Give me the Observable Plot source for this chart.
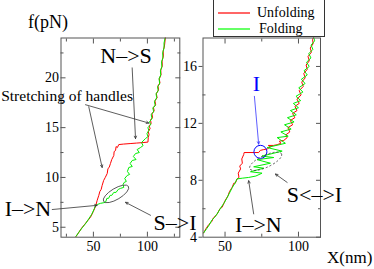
<!DOCTYPE html>
<html><head><meta charset="utf-8">
<script src="https://cdn.jsdelivr.net/npm/d3@7"></script>
<script src="https://cdn.jsdelivr.net/npm/@observablehq/plot@0.6"></script>
<style>
html,body{margin:0;padding:0;background:#fff;}
#chart{position:relative;width:374px;height:269px;overflow:hidden;font-family:"Liberation Serif",serif;background:#fff;}
#chart svg{position:absolute;left:0;top:0;}
#chart svg, #chart svg text{font-family:"Liberation Serif",serif !important;}
.lab{position:absolute;white-space:nowrap;line-height:1;color:#000;}
</style></head><body>
<div id="chart"></div>
<script>
// ---------- data ----------
const leftUnfoldX = [33.4,36,39,42,45,47.3,50,52,53.5,55,56,57.2,58.1,59.5,61,62.8,63.5,64.6,65.8,67,68.9,69.2,70.5,71,72.2,73.5,78,84,90,96,100.5,100.8,101.5,100.8,102.5,101.6,103.5,102.8,104.8,104.2,106.3,105.6,107.6,107,109,108.3,110.3,109.8,111.6,111,112.6,112.4,113.8,113.6,114.8,114.6,115.8,116.3,116.8];
const leftUnfoldY = [4.0,4.4,4.9,5.3,5.7,6.0,6.6,7.1,7.7,8.2,8.6,8.8,9.2,9.7,10.0,10.4,10.9,11.0,11.4,11.8,12.2,12.6,12.7,13.1,13.0,13.3,13.35,13.4,13.45,13.5,13.55,14.0,14.3,14.6,14.9,15.2,15.4,15.8,16.0,16.4,16.7,17.0,17.3,17.7,18.0,18.4,18.8,19.2,19.5,19.9,20.3,20.8,21.2,21.7,22.2,22.7,23.2,23.7,24.2];
const leftFoldX = [33.4,36.5,40,43,46,48.5,51,52,54,56.6,59,61.2,62.5,64,65.5,67,68.9,71,73,75.1,78.1,77.5,78.5,80.5,79,81.3,83.5,81.5,82.8,86,84,85.9,89.5,87,89,92.5,90.5,93.6,96,94.5,98.2,100.5,99.6,101.3,100.5,103,102,104.3,103.5,105.8,105,107.3,106.5,108.6,108,110,109.4,111.4,110.8,112.4,112,113.4,113.1,114.4,114.1,115.4,115.4,116.4];
const leftFoldY = [4.0,4.5,5.0,5.4,5.9,6.3,6.9,7.2,7.3,7.4,7.45,7.5,7.9,7.9,8.2,8.2,8.5,8.5,8.8,8.9,9.0,9.3,9.5,9.6,9.9,10.2,10.3,10.6,11.0,11.1,11.4,11.7,11.8,12.1,12.4,12.5,12.8,13.0,13.2,13.5,13.9,14.1,14.4,14.7,15.0,15.3,15.6,15.9,16.3,16.6,17.0,17.2,17.6,18.0,18.4,18.7,19.1,19.4,19.9,20.3,20.7,21.1,21.6,22.0,22.5,23.0,23.5,24.0];
const rightUnfoldX = [35.4,37,39,41,42,44.5,46.5,48,50.2,52,53,54.8,56,57,58.2,59.5,59,60.6,60,61.8,61.4,62.7,63,67,70,72.9,74,76,78.7,81,79.5,83,85.5,88,87,90,92.3,91.5,94.1,92.8,96,94.5,97.5,96,99,97.6,100.5,99,101.8,100.5,103.3,102.2,104.6,103.6,106,105.2,107.4,106.5,108.8,108,110,109.6,111];
const rightUnfoldY = [4.3,4.6,4.9,5.1,5.35,5.6,6.0,6.1,6.6,6.9,7.2,7.5,7.8,7.8,8.1,8.2,8.5,8.8,9.0,9.2,9.5,9.8,9.95,9.95,9.95,9.95,10.1,10.15,10.2,10.35,10.45,10.45,10.5,10.6,10.75,10.8,11.0,11.2,11.4,11.7,11.9,12.2,12.4,12.7,12.9,13.2,13.4,13.7,14.0,14.3,14.6,14.9,15.2,15.5,15.8,16.1,16.4,16.7,17.0,17.3,17.6,17.9,18.2];
const rightFoldX = [35.4,37.5,39.2,41,43,45,47,49,51,53,55,56.8,58.2,62,66.1,71,75.2,67.3,76.3,69.5,80.9,71.8,83.2,75.2,88.9,78.7,91.1,85.5,93,88,95,90.5,97,92.5,98.5,94.5,100,96.5,101.5,98.3,103,100.2,104.5,102,106,103.8,107.3,105.5,108.5,107,109.8,108.6,111,110.2];
const rightFoldY = [4.3,4.6,4.85,5.2,5.4,5.7,6.05,6.35,6.7,7.1,7.5,7.8,8.1,8.15,8.2,8.3,8.5,8.6,8.85,8.95,9.2,9.45,9.6,9.7,10.05,10.3,10.6,11.0,11.1,11.4,11.6,11.9,12.1,12.4,12.6,12.9,13.1,13.4,13.6,13.9,14.2,14.5,14.8,15.1,15.4,15.7,16.0,16.3,16.6,16.9,17.2,17.5,17.8,18.1];

const leftDomainX = [20,130], leftDomainY = [4,24];
const rightDomainX = [35,115], rightDomainY = [4,18];
const leftXTicks = [50,100], leftXMinor = [25,75,125];
const leftYTicks = [5,10,15,20], leftYMinor = [7.5,12.5,17.5,22.5];
const rightXTicks = [50,100], rightXMinor = [75];
const rightYTicks = [4,8,12,16], rightYMinor = [6,10,14];

const leftLabels = [
  {text:"N–>S", x:80.2, y:22.2, size:22},
  {text:"Stretching of handles", x:25.6, y:18.2, size:15.5},
  {text:"I–>N", x:-10.6, y:6.8, size:22},
  {text:"S–>I", x:125.6, y:5.4, size:22}
];
const leftArrows = [
  {x1:85.9,y1:21.0,x2:89,y2:13.9},
  {x1:42.7,y1:17.3,x2:101.3,y2:15.46},
  {x1:45.7,y1:17.1,x2:58.1,y2:11.0},
  {x1:11.9,y1:6.78,x2:53.5,y2:7.2},
  {x1:102.9,y1:6.2,x2:79.7,y2:7.5}
];
const rightLabels = [
  {text:"S<–>I", x:110.9, y:6.96, size:22},
  {text:"I–>N", x:72.7, y:4.86, size:22}
];
const rightArrows = [
  {x1:92.3,y1:7.85,x2:84.3,y2:8.44},
  {x1:69.5,y1:5.64,x2:66.1,y2:7.97}
];
const blueLabel = [{text:"I", x:71.4, y:14.8}];
const blueArrow = [{x1:70.0,y1:13.9,x2:72.9,y2:10.54}];
const blueCircle = [{x:74.1, y:10.0}];
const leftEllipse = {x:71.4, y:8.3};
const rightEllipse = {x:78, y:9.3};

const rows = (xs, ys) => xs.map((x, i) => ({x, y: ys[i]}));
const FRAME = "#555";
const noText = () => "";

function axes(xT, xM, yT, yM, leftOut) {
  return [
    Plot.axisX(xT, {anchor:"bottom", tickSize:-5, stroke:FRAME, tickFormat:noText, label:null}),
    Plot.axisX(xM, {anchor:"bottom", tickSize:-3, stroke:FRAME, tickFormat:noText, label:null}),
    Plot.axisX(xT, {anchor:"top", tickSize:-5, stroke:FRAME, tickFormat:noText, label:null}),
    Plot.axisX(xM, {anchor:"top", tickSize:-3, stroke:FRAME, tickFormat:noText, label:null}),
    Plot.axisY(yT, {anchor:"left", tickSize: leftOut ? 4 : -5, stroke:FRAME, tickFormat:noText, label:null}),
    Plot.axisY(yM, {anchor:"left", tickSize:-3, stroke:FRAME, tickFormat:noText, label:null}),
    Plot.axisY(yT, {anchor:"right", tickSize:-5, stroke:FRAME, tickFormat:noText, label:null}),
    Plot.axisY(yM, {anchor:"right", tickSize:-3, stroke:FRAME, tickFormat:noText, label:null}),
    Plot.axisX(xT, {anchor:"bottom", tickSize:0, tickPadding:4, fontSize:14, fill:"#000", label:null}),
    Plot.axisY(yT, {anchor:"left", tickSize:0, tickPadding: leftOut ? 6 : 2, fontSize:14, fill:"#000", label:null})
  ];
}

function addEllipse(svg, c, rx, ry, angle, dash) {
  const cx = svg.scale("x").apply(c.x), cy = svg.scale("y").apply(c.y);
  d3.select(svg).append("ellipse")
    .attr("cx", cx).attr("cy", cy).attr("rx", rx).attr("ry", ry)
    .attr("transform", `rotate(${angle},${cx},${cy})`)
    .attr("fill", "none").attr("stroke", "#444").attr("stroke-width", 0.8)
    .attr("stroke-dasharray", dash);
}

const common = {width:374, height:269, marginTop:37.5, marginBottom:32.3,
  style:{fontFamily:"Liberation Serif, serif", fontSize:"14px", background:"transparent", overflow:"visible"}};

const left = Plot.plot({
  ...common, marginLeft:60.5, marginRight:194.7,
  x:{domain:leftDomainX, label:null}, y:{domain:leftDomainY, label:null},
  marks:[
    Plot.line(rows(leftUnfoldX, leftUnfoldY), {x:"x", y:"y", stroke:"#ff0000", strokeWidth:1, clip:true}),
    Plot.line(rows(leftFoldX, leftFoldY), {x:"x", y:"y", stroke:"#00ee00", strokeWidth:1, clip:true}),
    Plot.frame({stroke:FRAME}),
    ...axes(leftXTicks, leftXMinor, leftYTicks, leftYMinor, false),
    Plot.arrow(leftArrows, {x1:"x1", y1:"y1", x2:"x2", y2:"y2", stroke:"#333", strokeWidth:0.8, headLength:5, headAngle:50}),
    Plot.text(leftLabels, {x:"x", y:"y", text:"text", fontSize:d => d.size, fill:"#000", lineAnchor:"middle"})
  ]
});

const right = Plot.plot({
  ...common, marginLeft:202.5, marginRight:54,
  x:{domain:rightDomainX, label:null}, y:{domain:rightDomainY, label:null},
  marks:[
    Plot.line(rows(rightUnfoldX, rightUnfoldY), {x:"x", y:"y", stroke:"#ff0000", strokeWidth:1, clip:true}),
    Plot.line(rows(rightFoldX, rightFoldY), {x:"x", y:"y", stroke:"#00ee00", strokeWidth:1, clip:true}),
    Plot.frame({stroke:FRAME}),
    ...axes(rightXTicks, rightXMinor, rightYTicks, rightYMinor, true),
    Plot.arrow(rightArrows, {x1:"x1", y1:"y1", x2:"x2", y2:"y2", stroke:"#333", strokeWidth:0.8, headLength:5, headAngle:50}),
    Plot.arrow(blueArrow, {x1:"x1", y1:"y1", x2:"x2", y2:"y2", stroke:"#3333ff", strokeWidth:0.8, headLength:5, headAngle:50}),
    Plot.dot(blueCircle, {x:"x", y:"y", r:6.5, stroke:"#0000ff", fill:"none", strokeWidth:1}),
    Plot.text(blueLabel, {x:"x", y:"y", text:"text", fontSize:22, fill:"#0000ff", lineAnchor:"middle"}),
    Plot.text(rightLabels, {x:"x", y:"y", text:"text", fontSize:d => d.size, fill:"#000", lineAnchor:"middle"})
  ]
});

const chart = document.getElementById("chart");
chart.appendChild(left);
chart.appendChild(right);
for (const s of [left, right]) {
  s.setAttribute("font-family", "Liberation Serif, serif");
  s.style.fontFamily = "'Liberation Serif', serif";
}
addEllipse(left, leftEllipse, 14.5, 5.5, -31, null);
addEllipse(right, rightEllipse, 17.5, 6, -25, "2,2");
d3.select(left).style("background", "#fff");

function label(text, left, top, size) {
  const d = document.createElement("div");
  d.className = "lab"; d.textContent = text;
  d.style.left = left + "px"; d.style.top = top + "px"; d.style.fontSize = size + "px";
  chart.appendChild(d);
}
label("f(pN)", 28, 12.5, 18);
label("X(nm)", 327, 248.8, 17);

// legend
const leg = document.createElement("div");
leg.style.cssText = "position:absolute;left:213px;top:-1px;width:110px;height:36px;border:1px solid #333;background:#fff;";
chart.appendChild(leg);
const series = [{name:"Unfolding", color:"#ff6666"}, {name:"Folding", color:"#66ff66"}];
series.forEach((s, i) => {
  const ln = document.createElement("div");
  ln.style.cssText = `position:absolute;left:4px;top:${12 + i*16}px;width:32px;height:1.5px;background:${s.color};`;
  leg.appendChild(ln);
  const t = document.createElement("div");
  t.className = "lab"; t.textContent = s.name;
  t.style.cssText += `left:${i ? 45 : 43}px;top:${5.6 + i*16}px;font-size:14px;`;
  leg.appendChild(t);
});
</script>
</body></html>
